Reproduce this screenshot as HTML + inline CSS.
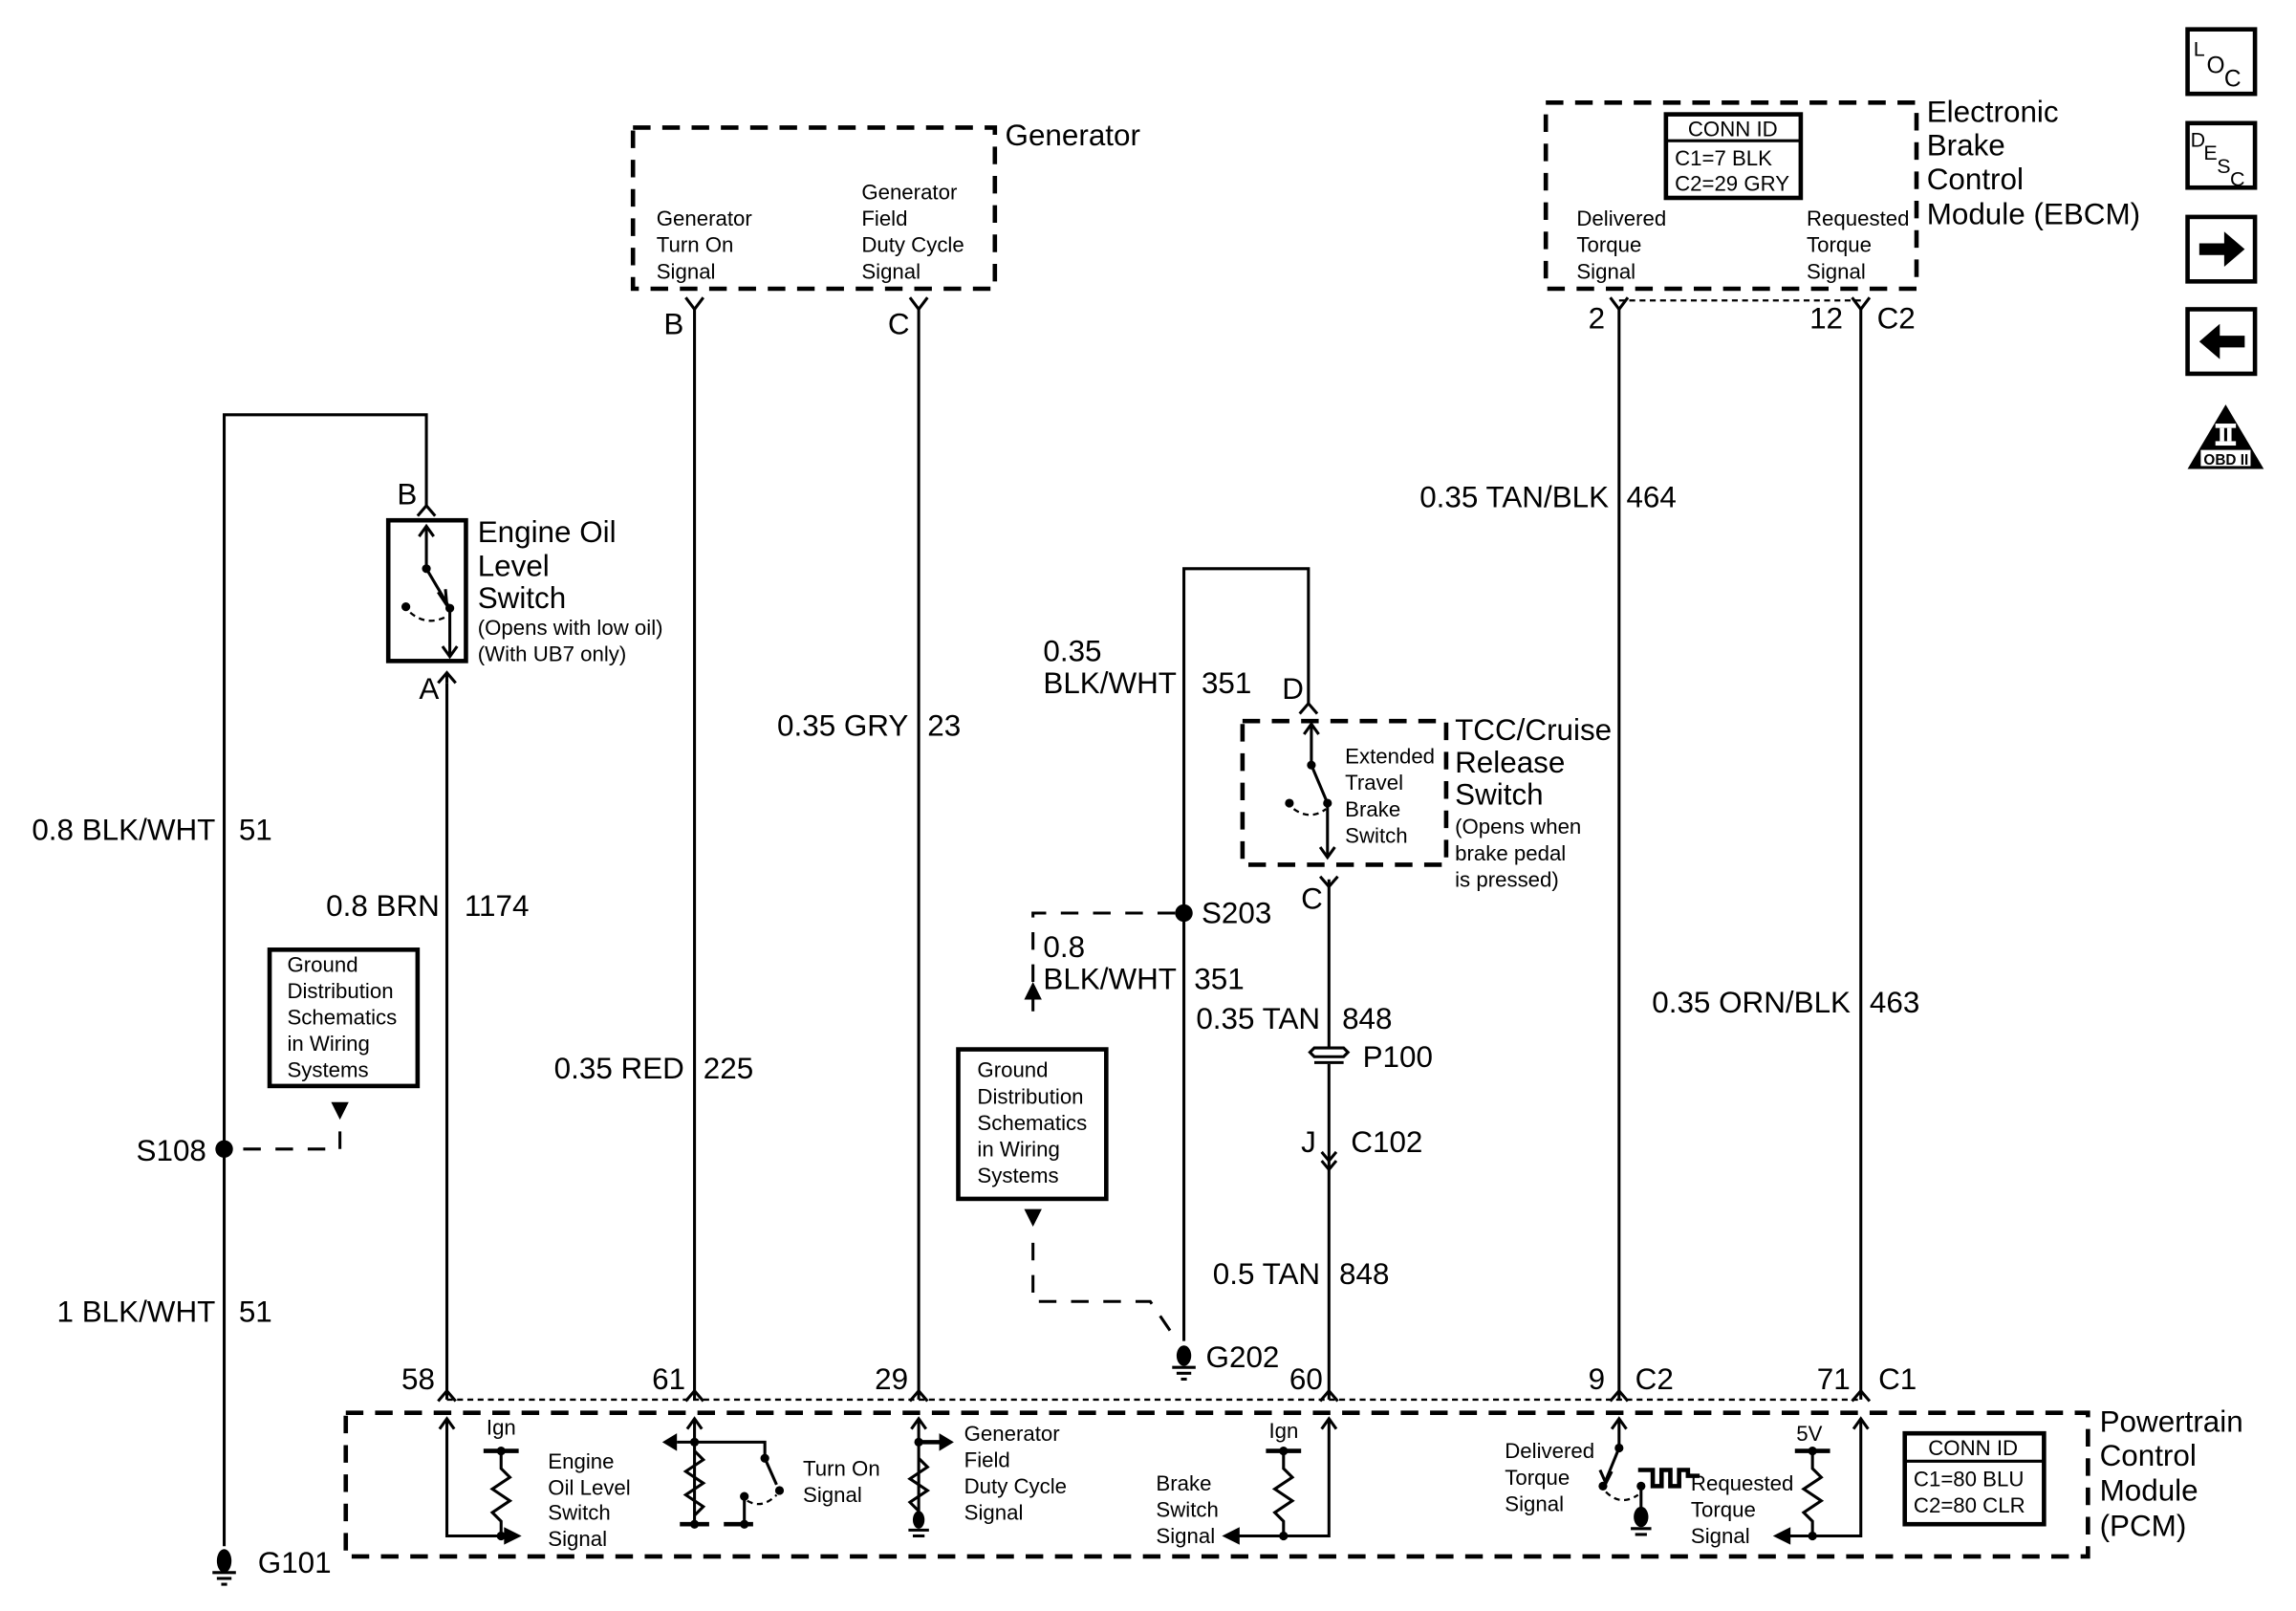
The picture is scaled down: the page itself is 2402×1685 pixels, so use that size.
<!DOCTYPE html>
<html><head><meta charset="utf-8"><style>
html,body{margin:0;padding:0;background:#fff}
svg{display:block}
text{font-family:"Liberation Sans",sans-serif;fill:#000}
.L{font-size:20.5px}
.S{font-size:14.5px}
.w{stroke:#000;stroke-width:2;fill:none}
.t{stroke:#000;stroke-width:3;fill:none}
.d{stroke:#000;stroke-width:3;fill:none;stroke-dasharray:12 8}
.dl{stroke:#000;stroke-width:2;fill:none;stroke-dasharray:12 10}
.dt{stroke:#000;stroke-width:1.5;fill:none;stroke-dasharray:4 3}
</style></head><body>
<svg width="2402" height="1685" viewBox="0 0 1567 1099.2" xmlns="http://www.w3.org/2000/svg">
<rect width="1570" height="1100" fill="#fff"/>

<!-- Generator -->
<rect x="432" y="87" width="247" height="110" class="d"/>
<text x="686" y="99" class="L">Generator</text>
<text class="S" x="448" y="154">Generator</text><text class="S" x="448" y="172">Turn On</text><text class="S" x="448" y="190">Signal</text>
<text class="S" x="588" y="136">Generator</text><text class="S" x="588" y="154">Field</text><text class="S" x="588" y="172">Duty Cycle</text><text class="S" x="588" y="190">Signal</text>
<text x="453" y="228" class="L">B</text><text x="606" y="228" class="L">C</text>

<!-- EBCM -->
<rect x="1055" y="70" width="253" height="127" class="d"/>
<rect x="1137" y="78" width="92" height="57" class="t"/>
<line x1="1137" y1="96" x2="1229" y2="96" class="w"/>
<text class="S" x="1152" y="93">CONN ID</text>
<text class="S" x="1143" y="113">C1=7 BLK</text>
<text class="S" x="1143" y="130">C2=29 GRY</text>
<text class="L" x="1315" y="83">Electronic</text><text class="L" x="1315" y="106">Brake</text><text class="L" x="1315" y="129">Control</text><text class="L" x="1315" y="153">Module (EBCM)</text>
<text class="S" x="1076" y="154">Delivered</text><text class="S" x="1076" y="172">Torque</text><text class="S" x="1076" y="190">Signal</text>
<text class="S" x="1233" y="154">Requested</text><text class="S" x="1233" y="172">Torque</text><text class="S" x="1233" y="190">Signal</text>
<line x1="1105" y1="205" x2="1270" y2="205" class="dt"/>
<text class="L" x="1084" y="224">2</text><text class="L" x="1235" y="224">12</text><text class="L" x="1281" y="224">C2</text>

<g class="w">
<path d="M468,203 L474,211 L480,203"/><path d="M621,203 L627,211 L633,203"/>
<path d="M1099,203 L1105,211 L1111,203"/><path d="M1264,203 L1270,211 L1276,203"/>
</g>
<g class="w">
<line x1="474" y1="211" x2="474" y2="955"/>
<line x1="627" y1="211" x2="627" y2="955"/>
<line x1="1105" y1="211" x2="1105" y2="955"/>
<line x1="1270" y1="211" x2="1270" y2="955"/>
<polyline points="153,1055 153,283 291,283 291,345"/>
<line x1="305" y1="466" x2="305" y2="955"/>
<polyline points="808,915 808,388 893,388 893,480"/>
<line x1="907" y1="600" x2="907" y2="714"/>
<line x1="907" y1="726" x2="907" y2="955"/>
</g>

<!-- Engine oil switch -->
<path class="w" d="M285,352 L291,345 L297,352"/>
<rect x="265" y="355" width="53" height="96" class="t"/>
<g class="w">
<path d="M291,360 L291,388 L307,415 L307,448"/>
<path d="M286,366 L291,359 L296,366"/><path d="M302,441 L307,448 L312,441"/>
<path d="M299,404 L305,413 L304,402" />
</g>
<circle cx="291" cy="388" r="3"/><circle cx="307" cy="415" r="3"/><circle cx="277" cy="414" r="3"/>
<path class="dt" d="M280,418 Q292,428 306,420"/>
<path class="w" d="M299,466 L305,459 L311,466 M305,459 L305,466"/>
<text class="L" x="271" y="344">B</text><text class="L" x="286" y="477">A</text>
<text class="L" x="326" y="370">Engine Oil</text><text class="L" x="326" y="393">Level</text><text class="L" x="326" y="415">Switch</text>
<text class="S" x="326" y="433">(Opens with low oil)</text><text class="S" x="326" y="451">(With UB7 only)</text>

<g class="L">
<text x="147" y="573" text-anchor="end">0.8 BLK/WHT</text><text x="163" y="573">51</text>
<text x="300" y="625" text-anchor="end">0.8 BRN</text><text x="317" y="625">1174</text>
<text x="147" y="902" text-anchor="end">1 BLK/WHT</text><text x="163" y="902">51</text>
<text x="467" y="736" text-anchor="end">0.35 RED</text><text x="480" y="736">225</text>
<text x="620" y="502" text-anchor="end">0.35 GRY</text><text x="633" y="502">23</text>
<text x="712" y="451">0.35</text><text x="712" y="473">BLK/WHT</text><text x="820" y="473">351</text>
<text x="712" y="653">0.8</text><text x="712" y="675">BLK/WHT</text><text x="815" y="675">351</text>
<text x="901" y="702" text-anchor="end">0.35 TAN</text><text x="916" y="702">848</text>
<text x="901" y="876" text-anchor="end">0.5 TAN</text><text x="914" y="876">848</text>
<text x="1098" y="346" text-anchor="end">0.35 TAN/BLK</text><text x="1110" y="346">464</text>
<text x="1263" y="691" text-anchor="end">0.35 ORN/BLK</text><text x="1276" y="691">463</text>
</g>

<circle cx="153" cy="784" r="6"/>
<text class="L" x="93" y="792">S108</text>
<polyline points="166,784 232,784 232,762" class="dl"/>
<polygon points="226,752 238,752 232,764"/>
<rect x="184" y="648" width="101" height="93" class="t"/>
<g class="S"><text x="196" y="663">Ground</text><text x="196" y="681">Distribution</text><text x="196" y="699">Schematics</text><text x="196" y="717">in Wiring</text><text x="196" y="735">Systems</text></g>
<ellipse cx="153" cy="1065" rx="5" ry="8"/>
<line x1="145" y1="1073" x2="161" y2="1073" class="w"/><line x1="148" y1="1077" x2="158" y2="1077" class="w"/><line x1="151" y1="1081" x2="155" y2="1081" class="w"/>
<text class="L" x="176" y="1073">G101</text>

<path class="w" d="M887,487 L893,480 L899,487"/>
<rect x="848" y="492" width="139" height="98" class="d"/>
<g class="w">
<path d="M895,495 L895,522 L906,548 L906,585"/>
<path d="M890,501 L895,494 L900,501"/><path d="M901,578 L906,585 L911,578"/>
</g>
<circle cx="895" cy="522" r="3"/><circle cx="906" cy="548" r="3"/><circle cx="880" cy="548" r="3"/>
<path class="dt" d="M883,552 Q894,560 905,552"/>
<path class="w" d="M901,598 L907,605 L913,598"/>
<text class="L" x="875" y="477">D</text><text class="L" x="888" y="620">C</text>
<g class="S"><text x="918" y="521">Extended</text><text x="918" y="539">Travel</text><text x="918" y="557">Brake</text><text x="918" y="575">Switch</text></g>
<g class="L"><text x="993" y="505">TCC/Cruise</text><text x="993" y="527">Release</text><text x="993" y="549">Switch</text></g>
<g class="S"><text x="993" y="569">(Opens when</text><text x="993" y="587">brake pedal</text><text x="993" y="605">is pressed)</text></g>

<g class="w"><path d="M897,715 L917,715 L920,718 L917,721 L897,721 L894,718 Z"/><line x1="897" y1="725" x2="917" y2="725"/></g>
<text class="L" x="930" y="728">P100</text>
<g class="w"><path d="M902,786 L907,792 L912,786 M902,792 L907,798 L912,792"/></g>
<text class="L" x="888" y="786">J</text><text class="L" x="922" y="786">C102</text>

<circle cx="808" cy="623" r="6"/>
<text class="L" x="820" y="630">S203</text>
<polyline points="802,623 705,623 705,690" class="dl"/>
<polygon points="699,682 711,682 705,670"/>
<rect x="654" y="716" width="101" height="102" class="t"/>
<g class="S"><text x="667" y="735">Ground</text><text x="667" y="753">Distribution</text><text x="667" y="771">Schematics</text><text x="667" y="789">in Wiring</text><text x="667" y="807">Systems</text></g>
<polygon points="699,825 711,825 705,837"/>
<polyline points="705,848 705,888 785,888 800,910" class="dl"/>
<ellipse cx="808" cy="925" rx="5" ry="7"/>
<line x1="800" y1="933" x2="816" y2="933" class="w"/><line x1="803" y1="937" x2="813" y2="937" class="w"/><line x1="806" y1="941" x2="810" y2="941" class="w"/>
<text class="L" x="823" y="933">G202</text>

<line x1="305" y1="955" x2="1270" y2="955" class="dt"/>
<g class="w">
<path d="M299,956 L305,949 L311,956"/><path d="M468,956 L474,949 L480,956"/><path d="M621,956 L627,949 L633,956"/>
<path d="M901,956 L907,949 L913,956"/><path d="M1099,956 L1105,949 L1111,956"/><path d="M1264,956 L1270,949 L1276,956"/>
</g>
<g class="L"><text x="274" y="948">58</text><text x="445" y="948">61</text><text x="597" y="948">29</text><text x="880" y="948">60</text><text x="1084" y="948">9</text><text x="1116" y="948">C2</text><text x="1240" y="948">71</text><text x="1282" y="948">C1</text></g>

<rect x="236" y="964" width="1189" height="98" class="d"/>
<g class="L"><text x="1433" y="977">Powertrain</text><text x="1433" y="1000">Control</text><text x="1433" y="1024">Module</text><text x="1433" y="1048">(PCM)</text></g>
<rect x="1300" y="978" width="95" height="62" class="t"/>
<line x1="1300" y1="997" x2="1395" y2="997" class="w"/>
<g class="S"><text x="1316" y="993">CONN ID</text><text x="1306" y="1014">C1=80 BLU</text><text x="1306" y="1032">C2=80 CLR</text></g>

<g class="w">
<path d="M305,969 L305,1048 L345,1048"/><path d="M300,975 L305,968 L310,975"/>
<line x1="330" y1="990" x2="354" y2="990" class="t"/>
<path d="M342,990 L342,1002 L348,1008 L336,1016 L348,1024 L336,1032 L342,1038 L342,1048"/>
</g>
<polygon points="344,1042 356,1048 344,1054"/>
<circle cx="342" cy="990" r="3"/><circle cx="342" cy="1048" r="3"/>
<text class="S" x="332" y="979">Ign</text>
<g class="S"><text x="374" y="1002">Engine</text><text x="374" y="1020">Oil Level</text><text x="374" y="1037">Switch</text><text x="374" y="1055">Signal</text></g>
<g class="w">
<path d="M474,969 L474,1040"/><path d="M469,975 L474,968 L479,975"/>
<path d="M462,984 L522,984 L522,995 L530,1013"/>
<path d="M474,990 L480,996 L468,1004 L480,1012 L468,1020 L480,1028 L474,1034"/>
<line x1="464" y1="1040" x2="484" y2="1040" class="t"/><line x1="494" y1="1040" x2="514" y2="1040" class="t"/>
<line x1="508" y1="1020" x2="508" y2="1040"/>
</g>
<polygon points="452,984 462,978 462,990"/>
<circle cx="474" cy="984" r="3"/><circle cx="522" cy="995" r="3"/><circle cx="532" cy="1017" r="3"/><circle cx="508" cy="1021" r="3"/><circle cx="474" cy="1040" r="3"/><circle cx="508" cy="1040" r="3"/>
<path class="dt" d="M510,1024 Q520,1030 530,1020"/>
<g class="S"><text x="548" y="1007">Turn On</text><text x="548" y="1025">Signal</text></g>
<g class="w">
<path d="M627,969 L627,1035"/><path d="M622,975 L627,968 L632,975"/>
<line x1="627" y1="984" x2="642" y2="984" class="t"/>
<path d="M627,995 L633,1001 L621,1009 L633,1017 L621,1025 L627,1031"/>
</g>
<polygon points="641,978 651,984 641,990"/>
<circle cx="627" cy="984" r="3"/>
<ellipse cx="627" cy="1037" rx="4" ry="6"/>
<line x1="620" y1="1044" x2="634" y2="1044" class="w"/><line x1="623" y1="1048" x2="631" y2="1048" class="w"/>
<g class="S"><text x="658" y="983">Generator</text><text x="658" y="1001">Field</text><text x="658" y="1019">Duty Cycle</text><text x="658" y="1037">Signal</text></g>
<g class="w">
<path d="M907,969 L907,1048 L845,1048"/><path d="M902,975 L907,968 L912,975"/>
<line x1="864" y1="990" x2="888" y2="990" class="t"/>
<path d="M876,990 L876,1002 L882,1008 L870,1016 L882,1024 L870,1032 L876,1038 L876,1048"/>
</g>
<polygon points="846,1042 834,1048 846,1054"/>
<circle cx="876" cy="990" r="3"/><circle cx="876" cy="1048" r="3"/>
<text class="S" x="866" y="981">Ign</text>
<g class="S"><text x="789" y="1017">Brake</text><text x="789" y="1035">Switch</text><text x="789" y="1053">Signal</text></g>
<g class="w">
<path d="M1105,969 L1105,988 L1096,1010"/><path d="M1100,975 L1105,968 L1110,975"/>
<path d="M1092,1003 L1096,1012 L1100,1004"/>
<path d="M1118,1003 L1128,1003 L1128,1014 L1134,1014 L1134,1003 L1140,1003 L1140,1014 L1146,1014 L1146,1003 L1152,1003 L1152,1007 L1160,1007" class="t"/>
<line x1="1120" y1="1015" x2="1120" y2="1035"/>
</g>
<circle cx="1105" cy="988" r="3"/><circle cx="1094" cy="1014" r="3"/><circle cx="1120" cy="1014" r="3"/>
<path class="dt" d="M1096,1018 Q1106,1028 1118,1020"/>
<ellipse cx="1120" cy="1035" rx="5" ry="7"/>
<line x1="1113" y1="1043" x2="1127" y2="1043" class="w"/><line x1="1116" y1="1047" x2="1124" y2="1047" class="w"/>
<g class="S"><text x="1027" y="995">Delivered</text><text x="1027" y="1013">Torque</text><text x="1027" y="1031">Signal</text></g>
<g class="w">
<path d="M1270,969 L1270,1048 L1220,1048"/><path d="M1265,975 L1270,968 L1275,975"/>
<line x1="1225" y1="990" x2="1249" y2="990" class="t"/>
<path d="M1237,990 L1237,1002 L1243,1008 L1231,1016 L1243,1024 L1231,1032 L1237,1038 L1237,1048"/>
</g>
<polygon points="1222,1042 1210,1048 1222,1054"/>
<circle cx="1237" cy="990" r="3"/><circle cx="1237" cy="1048" r="3"/>
<text class="S" x="1226" y="983">5V</text>
<g class="S"><text x="1154" y="1017">Requested</text><text x="1154" y="1035">Torque</text><text x="1154" y="1053">Signal</text></g>

<rect x="1493" y="20" width="46" height="44" class="t"/>
<text x="1497" y="38" style="font-size:14px">L</text><text x="1506" y="50" style="font-size:16px">O</text><text x="1518" y="59" style="font-size:16px">C</text>
<rect x="1493" y="84" width="46" height="44" class="t"/>
<text x="1495" y="100" style="font-size:14px">D</text><text x="1504" y="109" style="font-size:14px">E</text><text x="1513" y="118" style="font-size:14px">S</text><text x="1522" y="127" style="font-size:14px">C</text>
<rect x="1493" y="148" width="46" height="44" class="t"/>
<path d="M1501,166 L1518,166 L1518,158 L1532,170 L1518,182 L1518,174 L1501,174 Z"/>
<rect x="1493" y="211" width="46" height="44" class="t"/>
<path d="M1532,229 L1515,229 L1515,221 L1501,233 L1515,245 L1515,237 L1532,237 Z"/>
<path d="M1519,276 L1545,320 L1493,320 Z"/>
<rect x="1512" y="289" width="14" height="3" fill="#fff"/><rect x="1512" y="301" width="14" height="3" fill="#fff"/>
<rect x="1515" y="292" width="3" height="9" fill="#fff"/><rect x="1520" y="292" width="3" height="9" fill="#fff"/>
<rect x="1502" y="307" width="34" height="11" fill="#fff"/>
<text x="1504" y="317" style="font-size:10px;font-weight:bold">OBD II</text>
</svg>
</body></html>
